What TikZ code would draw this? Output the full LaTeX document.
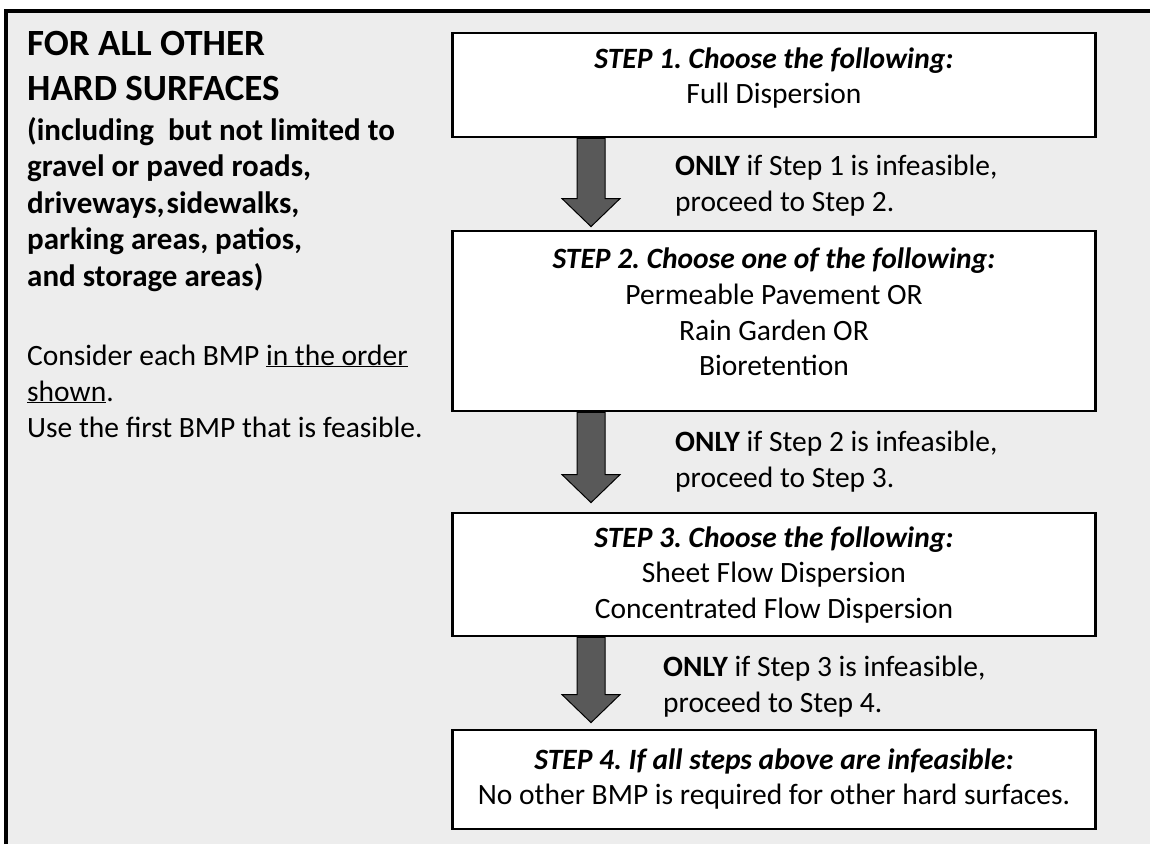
\documentclass[tikz,border=0pt]{standalone}
\usepackage{fontspec}
\setmainfont{Carlito}
\usetikzlibrary{calc}
\frenchspacing
\definecolor{framegray}{HTML}{EDEDED}
\definecolor{arrowgray}{HTML}{595959}
\newcommand\blkarrow[3]{%
  \path (#1.south -| ax) coordinate (bA) ([yshift=#3]#2.north -| ax) coordinate (bB);
  \draw[barrow] ($(bA)+(-14,0)$) -- ($(bB)+(-14,-28)$) -- ($(bB)+(-29,-28)$) -- (bB)
     -- ($(bB)+(29,-28)$) -- ($(bB)+(14,-28)$) -- ($(bA)+(14,0)$) -- cycle;}
\begin{document}
\begin{tikzpicture}[x=1pt,y=-1pt,
  stepbox/.style={draw=black, line width=2.8pt, fill=white, minimum width=643pt, inner sep=0pt},
  steptext/.style={font=\fontsize{29.5}{35.5}\selectfont, align=center, inner sep=0pt},
  onlytext/.style={font=\fontsize{29.5}{36}\selectfont, align=left, anchor=west, inner sep=0pt},
  lefttext/.style={align=left, anchor=base west, inner sep=0pt},
  barrow/.style={fill=arrowgray, draw=black, line width=1pt, line join=miter}]
\useasboundingbox (0,0) rectangle (1150,844);
\fill[white] (0,0) rectangle (1150,844);
\fill[framegray] (6,11) rectangle (1150,844);
\draw[line width=3.5pt] (6,844) -- (6,11) -- (1150,11);
\coordinate (ax) at (591,0);
% boxes
\node[stepbox, minimum height=104pt] (s1) at (774,85) {};
\node[stepbox, minimum height=180pt] (s2) at (774,321) {};
\node[stepbox, minimum height=123pt] (s3) at (774,574.5) {};
\node[stepbox, minimum height=99pt] (s4) at (774,779.5) {};
% box texts
\node[steptext] (t1) at (774,78) {\textbf{\textit{STEP 1. Choose the following:}}\\Full Dispersion};
\node[steptext] (t2) at (774,312) {\textbf{\textit{STEP 2. Choose one of the following:}}\\Permeable Pavement OR\\Rain Garden OR\\Bioretention};
\node[steptext] (t3) at (774,575) {\textbf{\textit{STEP 3. Choose the following:}}\\Sheet Flow Dispersion\\Concentrated Flow Dispersion};
\node[steptext] (t4) at (774,779) {\textbf{\textit{STEP 4. If all steps above are infeasible:}}\\No other BMP is required for other hard surfaces.};
% arrows
\blkarrow{s1}{s2}{3pt}
\blkarrow{s2}{s3}{9pt}
\blkarrow{s3}{s4}{6pt}
% only texts
\node[onlytext] (o1) at (675,186) {\textbf{ONLY} if Step 1 is infeasible,\\proceed to Step 2.};
\node[onlytext] (o2) at (675,462) {\textbf{ONLY} if Step 2 is infeasible,\\proceed to Step 3.};
\node[onlytext] (o3) at (663,687) {\textbf{ONLY} if Step 3 is infeasible,\\proceed to Step 4.};
% left column (anchor = baseline of last line)
\node[lefttext, font=\fontsize{37}{45}\selectfont\bfseries] (title) at (27,100) {FOR ALL OTHER\\HARD SURFACES};
\node[lefttext, font=\fontsize{31}{36.5}\selectfont\bfseries] (incl) at (27,286) {(including~ but not limited to\\gravel or paved roads,\\driveways,\kern2pt sidewalks,\\parking areas, patios,\\and storage areas)};
\node[lefttext, font=\fontsize{29.5}{36}\selectfont] (cons) at (27,437) {Consider each BMP \underline{in the order}\\\underline{shown}.\\Use the first BMP that is feasible.};
\end{tikzpicture}
\end{document}
